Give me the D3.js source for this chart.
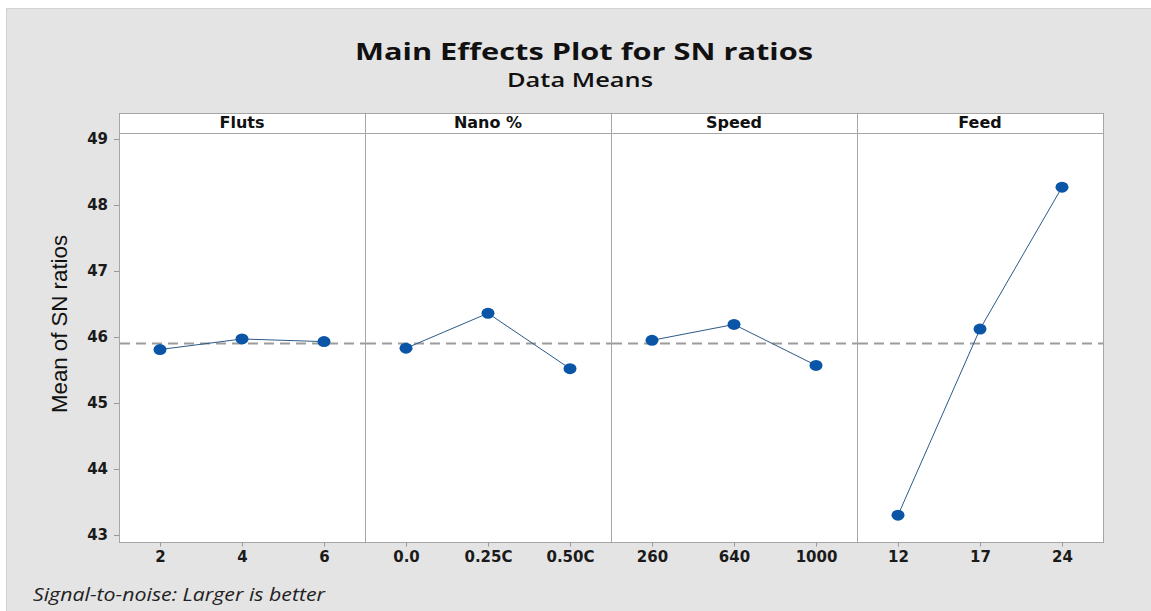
<!DOCTYPE html>
<html>
<head>
<meta charset="utf-8">
<script src="https://cdn.jsdelivr.net/npm/d3@7"></script>
<style>
  body { margin: 0; background: #fff; }
  svg { display: block; }
</style>
</head>
<body>
<div id="chart"></div>
<script>
// factors and their levels
var factors = ["Fluts", "Nano %", "Speed", "Feed"];
var flutsLevels = ["2", "4", "6"];
var nanoLevels = ["0.0", "0.25C", "0.50C"];
var speedLevels = ["260", "640", "1000"];
var feedLevels = ["12", "17", "24"];

// mean SN ratios
var flutsMeans = [45.81, 45.97, 45.93];
var nanoMeans = [45.83, 46.36, 45.52];
var speedMeans = [45.95, 46.19, 45.57];
var feedMeans = [43.30, 46.12, 48.27];

var yTicks = [43, 44, 45, 46, 47, 48, 49];

var levels = [flutsLevels, nanoLevels, speedLevels, feedLevels];
var means = [flutsMeans, nanoMeans, speedMeans, feedMeans];
var grandMean = d3.mean(d3.merge(means));

var width = 1151, height = 611;
var plotLeft = 119, plotRight = 1103, stripTop = 113, plotTop = 133, plotBottom = 542;
var panelW = (plotRight - plotLeft) / factors.length;

var svg = d3.select("#chart").append("svg")
  .attr("width", width)
  .attr("height", height);

// grey backdrop
svg.append("rect")
  .attr("x", 6.5).attr("y", 8.5)
  .attr("width", width - 6).attr("height", height - 8)
  .attr("fill", "#e4e4e4")
  .attr("stroke", "#d2d2d2");

svg.append("text")
  .attr("x", 584).attr("y", 60)
  .attr("text-anchor", "middle")
  .attr("textLength", 458)
  .attr("lengthAdjust", "spacingAndGlyphs")
  .style("font-family", "'Open Sans', sans-serif")
  .style("font-weight", "bold")
  .style("font-size", "23px")
  .attr("fill", "#111")
  .text("Main Effects Plot for SN ratios");

svg.append("text")
  .attr("x", 580).attr("y", 87)
  .attr("text-anchor", "middle")
  .attr("textLength", 146)
  .attr("lengthAdjust", "spacingAndGlyphs")
  .style("font-family", "'Open Sans', sans-serif")
  .style("font-weight", "600")
  .style("font-size", "19px")
  .attr("fill", "#111")
  .text("Data Means");

var y = d3.scaleLinear()
  .domain([42.894, 49.091])
  .range([plotBottom, plotTop]);

// y axis
var yAxis = svg.append("g")
  .attr("transform", "translate(" + plotLeft + ",0)")
  .call(d3.axisLeft(y).tickValues(yTicks).tickSize(5).tickPadding(6).tickFormat(d3.format("d")));
yAxis.select(".domain").remove();
yAxis.selectAll("line").attr("stroke", "#9a9a9a");
yAxis.selectAll("text")
  .style("font-family", "'DejaVu Sans', sans-serif")
  .style("font-weight", "bold")
  .style("font-size", "15px")
  .attr("fill", "#1a1a1a");

svg.append("text")
  .attr("transform", "translate(67,324) rotate(-90)")
  .attr("text-anchor", "middle")
  .attr("textLength", 178)
  .attr("lengthAdjust", "spacingAndGlyphs")
  .style("font-family", "'Liberation Sans', Arial, sans-serif")
  .style("font-size", "22px")
  .attr("fill", "#111")
  .text("Mean of SN ratios");

factors.forEach(function(f, i) {
  var x0 = plotLeft + i * panelW;
  var g = svg.append("g").attr("transform", "translate(" + x0 + ",0)");

  var x = d3.scalePoint()
    .domain(levels[i])
    .range([0, panelW])
    .padding(0.5);

  g.append("rect")
    .attr("x", 0.5).attr("y", plotTop + 0.5)
    .attr("width", panelW).attr("height", plotBottom - plotTop)
    .attr("fill", "#fff")
    .attr("stroke", "#a6a6a6");

  // strip header
  g.append("rect")
    .attr("x", 0.5).attr("y", stripTop + 0.5)
    .attr("width", panelW).attr("height", plotTop - stripTop)
    .attr("fill", "#fff")
    .attr("stroke", "#a6a6a6");
  g.append("text")
    .attr("x", panelW / 2).attr("y", 128)
    .attr("text-anchor", "middle")
    .style("font-family", "'DejaVu Sans', sans-serif")
    .style("font-weight", "bold")
    .style("font-size", "16px")
    .attr("fill", "#111")
    .text(f);

  var xAxis = g.append("g")
    .attr("transform", "translate(0," + (plotBottom + 0.5) + ")")
    .call(d3.axisBottom(x).tickSize(4).tickPadding(5));
  xAxis.select(".domain").remove();
  xAxis.selectAll("line").attr("stroke", "#9a9a9a");
  xAxis.selectAll("text")
    .style("font-family", "'DejaVu Sans', sans-serif")
    .style("font-weight", "bold")
    .style("font-size", "15px")
    .attr("fill", "#1a1a1a");

  // reference line at the overall mean
  g.append("line")
    .attr("x1", 1).attr("x2", panelW)
    .attr("y1", y(grandMean)).attr("y2", y(grandMean))
    .attr("stroke", "#9c9c9c")
    .attr("stroke-width", 2)
    .attr("stroke-dasharray", "10,6");

  var pts = levels[i].map(function(l, j) { return { level: l, value: means[i][j] }; });

  g.append("path")
    .datum(pts)
    .attr("fill", "none")
    .attr("stroke", "#2c5a88")
    .attr("stroke-width", 1)
    .attr("d", d3.line()
      .x(function(d) { return x(d.level); })
      .y(function(d) { return y(d.value); }));

  g.selectAll("ellipse")
    .data(pts)
    .enter().append("ellipse")
    .attr("cx", function(d) { return x(d.level); })
    .attr("cy", function(d) { return y(d.value); })
    .attr("rx", 6.5)
    .attr("ry", 5.5)
    .attr("fill", "#0a55a6");
});

svg.append("text")
  .attr("x", 33).attr("y", 601)
  .attr("textLength", 292)
  .attr("lengthAdjust", "spacingAndGlyphs")
  .style("font-family", "'Open Sans', sans-serif")
  .style("font-style", "italic")
  .style("font-size", "18px")
  .attr("fill", "#222")
  .text("Signal-to-noise: Larger is better");
</script>
</body>
</html>
